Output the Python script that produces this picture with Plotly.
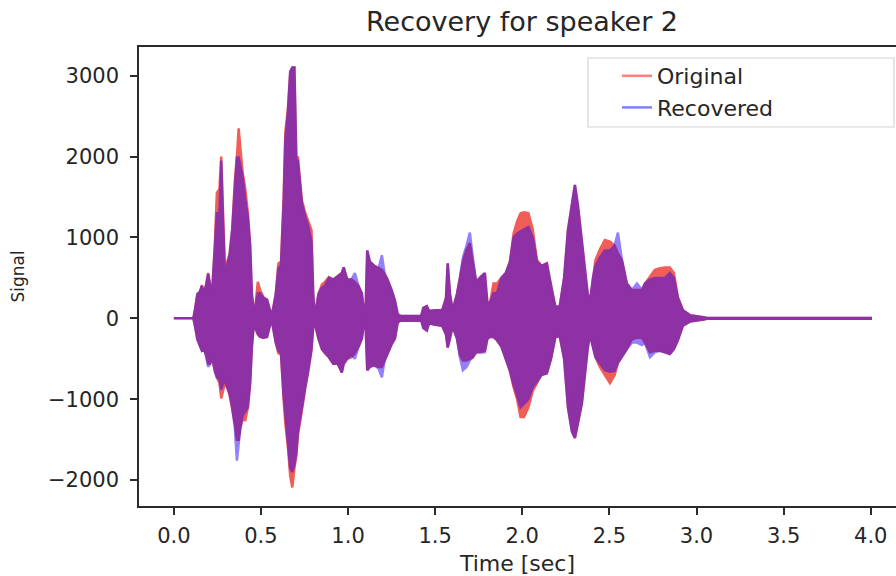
import plotly.graph_objects as go

# Envelope readings (time in s, signal amplitude) for each series
t = [0.000, 0.112, 0.122, 0.135, 0.150, 0.161, 0.172, 0.184, 0.197, 0.208,
     0.220, 0.235, 0.247, 0.262, 0.272, 0.282, 0.293, 0.306, 0.320, 0.335,
     0.350, 0.362, 0.372, 0.382, 0.395, 0.410, 0.425, 0.438, 0.448, 0.458,
     0.468, 0.482, 0.495, 0.515, 0.535, 0.552, 0.565, 0.585, 0.600, 0.615,
     0.630, 0.640, 0.655, 0.668, 0.680, 0.692, 0.703, 0.712, 0.735, 0.755,
     0.770, 0.790, 0.800, 0.808, 0.815, 0.830, 0.850, 0.867, 0.890, 0.915,
     0.941, 0.964, 0.975, 0.995, 1.020, 1.039, 1.060, 1.079, 1.092, 1.100,
     1.110, 1.125, 1.150, 1.175, 1.194, 1.210, 1.228, 1.250, 1.269, 1.285,
     1.300, 1.420, 1.432, 1.452, 1.465, 1.500, 1.540, 1.562, 1.572, 1.585,
     1.600, 1.625, 1.642, 1.659, 1.680, 1.699, 1.716, 1.735, 1.760, 1.785,
     1.800, 1.815, 1.835, 1.855, 1.880, 1.905, 1.929, 1.950, 1.970, 1.990,
     2.010, 2.035, 2.060, 2.084, 2.110, 2.141, 2.165, 2.190, 2.215, 2.240,
     2.262, 2.285, 2.302, 2.319, 2.342, 2.360, 2.375, 2.388, 2.405, 2.420,
     2.445, 2.474, 2.503, 2.530, 2.549, 2.572, 2.600, 2.629, 2.658, 2.687,
     2.704, 2.733, 2.761, 2.790, 2.819, 2.847, 2.870, 2.893, 2.922, 2.962,
     3.002, 3.040, 3.060, 4.000]

orig_hi = [0, 0, 120, 300, 330, 410, 320, 400, 560, 420,
           330, 900, 1550, 1600, 2000, 1400, 620, 700, 800, 1100,
           1700, 2000, 2350, 2100, 1800, 1600, 1300, 900, 300, 100,
           150, 450, 350, 260, 230, 100, 60, 300, 680, 700,
           1500, 2300, 2600, 3050, 3100, 3100, 2000, 1990, 1460, 1300,
           1210, 1090, 300, 60, 100, 300, 420, 450, 510, 480,
           520, 560, 630, 480, 480, 450, 400, 310, 60, 60,
           840, 700, 650, 620, 600, 550, 470, 350, 220, 50,
           30, 30, 130, 150, 90, 100, 100, 250, 680, 300,
           100, 300, 500, 700, 850, 930, 700, 450, 510, 560,
           180, 200, 430, 430, 500, 560, 700, 1050, 1200, 1300,
           1310, 1300, 1100, 720, 650, 680, 400, 140, 150, 500,
           1090, 1400, 1650, 1400, 930, 600, 310, 200, 500, 720,
           850, 970, 950, 900, 800, 720, 430, 350, 350, 350,
           430, 520, 600, 620, 630, 630, 560, 260, 100, 40,
           30, 15, 5, 5]

orig_lo = [0, 0, -100, -260, -330, -400, -380, -450, -560, -560,
           -480, -650, -730, -800, -990, -900, -800, -850, -950, -1100,
           -1300, -1500, -1500, -1350, -1250, -1260, -1100, -800, -350, -100,
           -120, -200, -230, -240, -230, -80, -60, -300, -430, -450,
           -1000, -1300, -1600, -1950, -2090, -1850, -1700, -1450, -1140, -850,
           -680, -400, -100, -50, -100, -250, -380, -430, -480, -560,
           -560, -670, -560, -500, -480, -430, -350, -250, -50, -50,
           -640, -600, -580, -600, -600, -520, -430, -320, -250, -50,
           -30, -30, -120, -150, -60, -80, -90, -200, -360, -250,
           -100, -250, -450, -520, -520, -500, -480, -420, -420, -400,
           -250, -230, -230, -270, -350, -500, -650, -850, -1000, -1220,
           -1220, -1100, -900, -800, -700, -680, -500, -230, -220, -500,
           -1100, -1400, -1480, -1300, -1050, -700, -380, -200, -350, -480,
           -600, -700, -800, -700, -550, -480, -380, -260, -240, -240,
           -300, -420, -400, -400, -420, -440, -380, -270, -90, -40,
           -30, -15, -5, -5]

rec_hi = [0, 0, 120, 300, 330, 400, 320, 400, 550, 400,
          330, 800, 1300, 1300, 1950, 1200, 560, 650, 780, 1100,
          1650, 1990, 1990, 1900, 1750, 1460, 1250, 900, 300, 100,
          150, 310, 310, 250, 230, 100, 60, 300, 620, 650,
          1400, 2200, 2550, 3050, 3100, 3100, 1950, 1950, 1420, 1250,
          1150, 950, 300, 60, 100, 300, 380, 400, 500, 480,
          520, 560, 630, 480, 480, 560, 400, 310, 60, 60,
          840, 700, 650, 620, 780, 550, 470, 350, 220, 50,
          30, 30, 130, 150, 90, 100, 100, 250, 680, 300,
          100, 300, 500, 750, 900, 1060, 750, 450, 510, 560,
          180, 200, 310, 310, 500, 560, 700, 1000, 1050, 1080,
          1100, 1130, 1000, 700, 650, 680, 400, 140, 150, 500,
          1090, 1400, 1650, 1400, 930, 600, 310, 200, 500, 650,
          750, 840, 840, 900, 1060, 720, 430, 350, 430, 350,
          430, 480, 500, 500, 500, 560, 500, 260, 100, 40,
          30, 15, 5, 5]

rec_lo = [0, 0, -100, -260, -330, -400, -380, -450, -600, -560,
          -480, -650, -730, -750, -880, -800, -780, -850, -930, -1100,
          -1350, -1760, -1550, -1350, -1200, -1150, -1100, -800, -350, -100,
          -120, -190, -230, -240, -230, -80, -60, -300, -400, -430,
          -950, -1250, -1550, -1850, -1900, -1800, -1670, -1400, -1100, -830,
          -650, -380, -100, -50, -100, -250, -380, -430, -480, -560,
          -560, -670, -560, -500, -450, -500, -350, -250, -50, -50,
          -640, -600, -580, -620, -730, -520, -430, -320, -250, -50,
          -30, -30, -120, -150, -60, -80, -90, -200, -360, -250,
          -100, -250, -480, -640, -600, -520, -480, -420, -420, -420,
          -250, -230, -230, -270, -350, -500, -650, -820, -950, -1100,
          -1050, -1000, -850, -780, -700, -680, -500, -230, -220, -500,
          -1100, -1400, -1480, -1300, -1050, -700, -380, -200, -350, -480,
          -560, -640, -660, -650, -550, -480, -380, -300, -300, -330,
          -300, -480, -420, -400, -420, -440, -380, -270, -90, -40,
          -30, -15, -5, -5]

x_ticks = [0.0, 0.5, 1.0, 1.5, 2.0, 2.5, 3.0, 3.5, 4.0]
x_tick_text = ["0.0", "0.5", "1.0", "1.5", "2.0", "2.5", "3.0", "3.5", "4.0"]
y_ticks = [-2000, -1000, 0, 1000, 2000, 3000]
y_tick_text = ["\u22122000", "\u22121000", "0", "1000", "2000", "3000"]

FONT = "DejaVu Sans"
TXT = "#262626"
AX = "#2b2b2b"

# plot area in pixels (for paper-coordinate placement of the legend frame)
PL, PR, PT, PB = 139, 896, 47, 506
def px(x):
    return (x - PL) / (PR - PL)
def py(y):
    return (PB - y) / (PB - PT)

fig = go.Figure()

# Original: filled envelope
fig.add_trace(go.Scatter(
    x=t + t[::-1], y=orig_hi + orig_lo[::-1],
    fill="toself", mode="lines",
    line=dict(color="rgb(240,94,88)", width=2.5),
    fillcolor="rgb(240,94,88)",
    showlegend=False, hoverinfo="skip"))

# Recovered: filled envelope (semi-transparent on top)
fig.add_trace(go.Scatter(
    x=t + t[::-1], y=rec_hi + rec_lo[::-1],
    fill="toself", mode="lines",
    line=dict(color="rgb(45,5,240)", width=2.5),
    fillcolor="rgb(45,5,240)", opacity=0.5,
    showlegend=False, hoverinfo="skip"))

# legend entries
fig.add_trace(go.Scatter(x=[None], y=[None], mode="lines", name="Original",
                         line=dict(color="rgba(255,0,0,0.5)", width=2.5)))
fig.add_trace(go.Scatter(x=[None], y=[None], mode="lines", name="Recovered",
                         line=dict(color="rgba(0,0,255,0.5)", width=2.5)))

fig.update_layout(
    width=896, height=576,
    margin=dict(l=PL, r=896 - PR, t=PT, b=576 - PB),
    paper_bgcolor="white", plot_bgcolor="white",
    font=dict(family=FONT, size=21, color=TXT),
    title=dict(text="Recovery for speaker 2", font=dict(size=27, color=TXT),
               x=522 / 896, xref="container", xanchor="center",
               y=1 - 22 / 576, yref="container", yanchor="middle"),
    showlegend=True,
    legend=dict(x=px(617), xanchor="left", y=py(55), yanchor="top",
                bgcolor="rgba(0,0,0,0)", borderwidth=0,
                font=dict(size=22, color=TXT), tracegroupgap=0),
    shapes=[dict(type="rect", xref="paper", yref="paper",
                 x0=px(588), x1=px(894), y0=py(127), y1=py(58),
                 line=dict(color="#d4d4d4", width=1.2),
                 fillcolor="rgba(255,255,255,0.85)", layer="above")],
)

fig.update_xaxes(range=[-0.2, 4.145], tickvals=x_ticks, ticktext=x_tick_text,
                 showline=True, linecolor=AX, linewidth=1.6, mirror=True,
                 ticks="outside", ticklen=7, tickwidth=1.5, tickcolor=AX,
                 ticklabelstandoff=3,
                 showgrid=False, zeroline=False,
                 title=dict(text="Time [sec]", font=dict(size=22), standoff=10))
fig.update_yaxes(range=[-2320, 3355], tickvals=y_ticks, ticktext=y_tick_text,
                 showline=True, linecolor=AX, linewidth=1.6, mirror=False,
                 ticks="outside", ticklen=7, tickwidth=1.5, tickcolor=AX,
                 ticklabelstandoff=7,
                 showgrid=False, zeroline=False,
                 title=dict(text="Signal", font=dict(size=17), standoff=19))

fig.write_html("out.html")
